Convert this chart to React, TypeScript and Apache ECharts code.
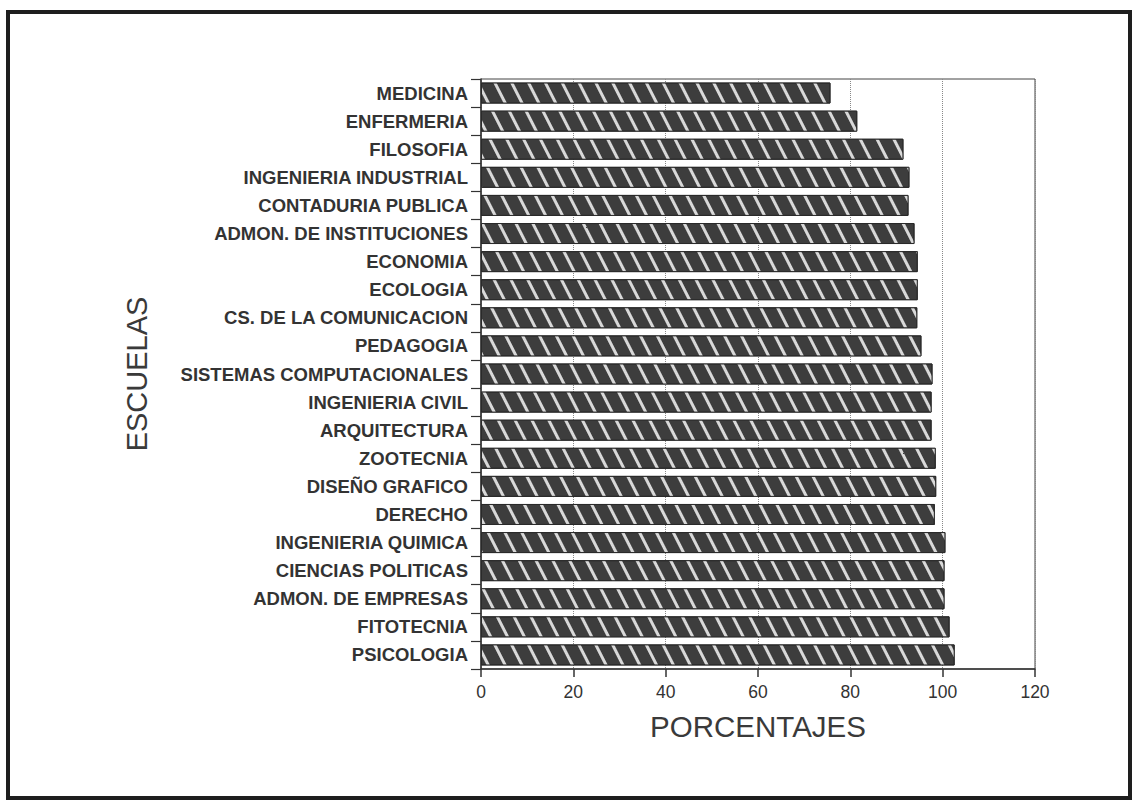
import React, { useEffect, useRef } from "react";
import * as echarts from "echarts";

const categories = [
  "MEDICINA",
  "ENFERMERIA",
  "FILOSOFIA",
  "INGENIERIA INDUSTRIAL",
  "CONTADURIA PUBLICA",
  "ADMON. DE INSTITUCIONES",
  "ECONOMIA",
  "ECOLOGIA",
  "CS. DE LA COMUNICACION",
  "PEDAGOGIA",
  "SISTEMAS COMPUTACIONALES",
  "INGENIERIA CIVIL",
  "ARQUITECTURA",
  "ZOOTECNIA",
  "DISEÑO GRAFICO",
  "DERECHO",
  "INGENIERIA QUIMICA",
  "CIENCIAS POLITICAS",
  "ADMON. DE EMPRESAS",
  "FITOTECNIA",
  "PSICOLOGIA",
];

const porcentajes = [
  75.7, 81.5, 91.5, 92.8, 92.6, 93.9, 94.6, 94.6, 94.5, 95.4, 97.8, 97.6, 97.6,
  98.5, 98.6, 98.3, 100.6, 100.4, 100.4, 101.5, 102.6,
];

const xTicks = [0, 20, 40, 60, 80, 100, 120];

const FONT = "'Liberation Sans', Arial, Helvetica, sans-serif";

export default function App() {
  const ref = useRef<HTMLDivElement>(null);

  useEffect(() => {
    document.body.style.margin = "0";
    if (!ref.current) return;
    const chart = echarts.init(ref.current, null, { renderer: "svg" });
    chart.setOption({
      animation: false,
      backgroundColor: "#ffffff",
      grid: {
        left: 481,
        right: 99,
        top: 79,
        bottom: 133,
        show: true,
        borderColor: "#444",
        borderWidth: 1,
        backgroundColor: "transparent",
      },
      xAxis: {
        type: "value",
        min: xTicks[0],
        max: xTicks[xTicks.length - 1],
        interval: 20,
        name: "PORCENTAJES",
        nameLocation: "middle",
        nameGap: 42,
        nameTextStyle: {
          fontFamily: FONT,
          fontSize: 29.5,
          color: "#3a3a3a",
        },
        axisLine: { show: true, lineStyle: { color: "#333", width: 1.5 } },
        axisTick: { show: true, length: 8, lineStyle: { color: "#333", width: 1.5 } },
        axisLabel: {
          margin: 14,
          fontFamily: FONT,
          fontSize: 17.5,
          color: "#333",
        },
        splitLine: {
          show: true,
          lineStyle: { color: "#888", type: "dotted", width: 1 },
        },
      },
      yAxis: {
        type: "category",
        inverse: true,
        data: categories,
        name: "ESCUELAS",
        nameLocation: "middle",
        nameGap: 330,
        nameRotate: 90,
        nameTextStyle: {
          fontFamily: FONT,
          fontSize: 29,
          color: "#3a3a3a",
        },
        axisLine: { show: true, lineStyle: { color: "#333", width: 1.5 } },
        axisTick: { show: true, length: 10, lineStyle: { color: "#333", width: 1.2 } },
        axisLabel: {
          margin: 13,
          fontFamily: FONT,
          fontSize: 18.5,
          fontWeight: "bold",
          color: "#333",
        },
      },
      series: [
        {
          type: "bar",
          data: porcentajes,
          barWidth: 21,
          itemStyle: {
            color: "#3d3d3d",
            borderColor: "#2a2a2a",
            borderWidth: 1,
            decal: {
              symbol: "rect",
              symbolSize: 1,
              dashArrayX: [1, 0],
              dashArrayY: [2.5, 12],
              rotation: 1.1,
              color: "#d9d9d9",
            },
          },
        },
      ],
      graphic: [
        {
          type: "rect",
          shape: { x: 8, y: 12, width: 1122, height: 786 },
          style: { fill: "none", stroke: "#1e1e1e", lineWidth: 4 },
          silent: true,
        },
      ],
    });
    return () => chart.dispose();
  }, []);

  return <div ref={ref} style={{ width: 1134, height: 802 }} />;
}
